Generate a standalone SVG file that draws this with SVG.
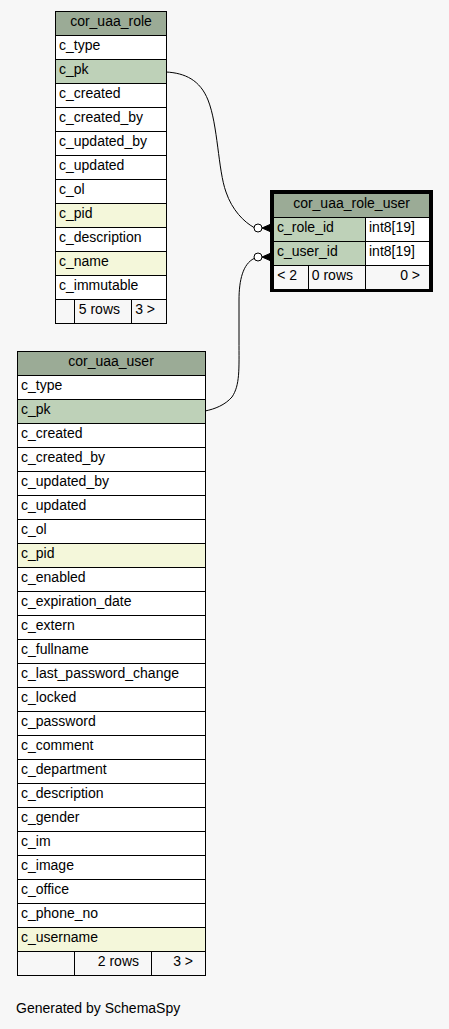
<svg xmlns="http://www.w3.org/2000/svg" width="449" height="1029" viewBox="0 0 449 1029">
<style>
text{font-family:"Liberation Sans",Arial,sans-serif;font-size:14px;fill:#000}
.c{text-anchor:middle}
.e{text-anchor:end}
.cell{fill:#ffffff;stroke:#000;stroke-width:1}
.hdr{fill:#9bab96;stroke:#000;stroke-width:1}
.pk{fill:#bed1b8;stroke:#000;stroke-width:1}
.idx{fill:#f4f7da;stroke:#000;stroke-width:1}
.ft{fill:#f7f7f7;stroke:#000;stroke-width:1}
.edge{fill:none;stroke:#000;stroke-width:1}
.dot{fill:#fff;stroke:#000;stroke-width:1}
.crow{fill:#000;stroke:#000;stroke-width:1}
</style>
<rect width="449" height="1029" fill="#f7f7f7"/>

<g id="cor_uaa_role">
<rect class="hdr" x="55.5" y="11.5" width="111" height="24"/>
<text class="c" x="111" y="26">cor_uaa_role</text>
<rect class="cell" x="55.5" y="35.5" width="111" height="24"/><text x="59" y="50">c_type</text>
<rect class="pk" x="55.5" y="59.5" width="111" height="24"/><text x="59" y="74">c_pk</text>
<rect class="cell" x="55.5" y="83.5" width="111" height="24"/><text x="59" y="98">c_created</text>
<rect class="cell" x="55.5" y="107.5" width="111" height="24"/><text x="59" y="122">c_created_by</text>
<rect class="cell" x="55.5" y="131.5" width="111" height="24"/><text x="59" y="146">c_updated_by</text>
<rect class="cell" x="55.5" y="155.5" width="111" height="24"/><text x="59" y="170">c_updated</text>
<rect class="cell" x="55.5" y="179.5" width="111" height="24"/><text x="59" y="194">c_ol</text>
<rect class="idx" x="55.5" y="203.5" width="111" height="24"/><text x="59" y="218">c_pid</text>
<rect class="cell" x="55.5" y="227.5" width="111" height="24"/><text x="59" y="242">c_description</text>
<rect class="idx" x="55.5" y="251.5" width="111" height="24"/><text x="59" y="266">c_name</text>
<rect class="cell" x="55.5" y="275.5" width="111" height="24"/><text x="59" y="290">c_immutable</text>
<rect class="ft" x="55.5" y="299.5" width="19" height="24"/>
<rect class="ft" x="74.5" y="299.5" width="57" height="24"/><text class="e" x="120" y="314">5 rows</text>
<rect class="ft" x="131.5" y="299.5" width="35" height="24"/><text class="e" x="155" y="314">3 &gt;</text>
</g>

<g id="cor_uaa_role_user">
<rect x="271.5" y="191.5" width="160" height="99" fill="none" stroke="#000" stroke-width="3"/>
<rect class="hdr" x="273.5" y="193.5" width="156" height="24"/>
<text class="c" x="351.5" y="208">cor_uaa_role_user</text>
<rect class="pk" x="273.5" y="217.5" width="92" height="24"/><text x="277" y="232">c_role_id</text>
<rect class="cell" x="365.5" y="217.5" width="64" height="24"/><text x="369" y="232">int8[19]</text>
<rect class="pk" x="273.5" y="241.5" width="92" height="24"/><text x="277" y="256">c_user_id</text>
<rect class="cell" x="365.5" y="241.5" width="64" height="24"/><text x="369" y="256">int8[19]</text>
<rect class="ft" x="273.5" y="265.5" width="35" height="24"/><text class="e" x="297" y="280">&lt; 2</text>
<rect class="ft" x="308.5" y="265.5" width="57" height="24"/><text class="e" x="353" y="280">0 rows</text>
<rect class="ft" x="365.5" y="265.5" width="64" height="24"/><text class="e" x="420" y="280">0 &gt;</text>
</g>

<g id="cor_uaa_user">
<rect class="hdr" x="17.5" y="351.5" width="188" height="24"/>
<text class="c" x="111" y="366">cor_uaa_user</text>
<rect class="cell" x="17.5" y="375.5" width="188" height="24"/><text x="21" y="390">c_type</text>
<rect class="pk" x="17.5" y="399.5" width="188" height="24"/><text x="21" y="414">c_pk</text>
<rect class="cell" x="17.5" y="423.5" width="188" height="24"/><text x="21" y="438">c_created</text>
<rect class="cell" x="17.5" y="447.5" width="188" height="24"/><text x="21" y="462">c_created_by</text>
<rect class="cell" x="17.5" y="471.5" width="188" height="24"/><text x="21" y="486">c_updated_by</text>
<rect class="cell" x="17.5" y="495.5" width="188" height="24"/><text x="21" y="510">c_updated</text>
<rect class="cell" x="17.5" y="519.5" width="188" height="24"/><text x="21" y="534">c_ol</text>
<rect class="idx" x="17.5" y="543.5" width="188" height="24"/><text x="21" y="558">c_pid</text>
<rect class="cell" x="17.5" y="567.5" width="188" height="24"/><text x="21" y="582">c_enabled</text>
<rect class="cell" x="17.5" y="591.5" width="188" height="24"/><text x="21" y="606">c_expiration_date</text>
<rect class="cell" x="17.5" y="615.5" width="188" height="24"/><text x="21" y="630">c_extern</text>
<rect class="cell" x="17.5" y="639.5" width="188" height="24"/><text x="21" y="654">c_fullname</text>
<rect class="cell" x="17.5" y="663.5" width="188" height="24"/><text x="21" y="678">c_last_password_change</text>
<rect class="cell" x="17.5" y="687.5" width="188" height="24"/><text x="21" y="702">c_locked</text>
<rect class="cell" x="17.5" y="711.5" width="188" height="24"/><text x="21" y="726">c_password</text>
<rect class="cell" x="17.5" y="735.5" width="188" height="24"/><text x="21" y="750">c_comment</text>
<rect class="cell" x="17.5" y="759.5" width="188" height="24"/><text x="21" y="774">c_department</text>
<rect class="cell" x="17.5" y="783.5" width="188" height="24"/><text x="21" y="798">c_description</text>
<rect class="cell" x="17.5" y="807.5" width="188" height="24"/><text x="21" y="822">c_gender</text>
<rect class="cell" x="17.5" y="831.5" width="188" height="24"/><text x="21" y="846">c_im</text>
<rect class="cell" x="17.5" y="855.5" width="188" height="24"/><text x="21" y="870">c_image</text>
<rect class="cell" x="17.5" y="879.5" width="188" height="24"/><text x="21" y="894">c_office</text>
<rect class="cell" x="17.5" y="903.5" width="188" height="24"/><text x="21" y="918">c_phone_no</text>
<rect class="idx" x="17.5" y="927.5" width="188" height="24"/><text x="21" y="942">c_username</text>
<rect class="ft" x="17.5" y="951.5" width="57" height="24"/>
<rect class="ft" x="74.5" y="951.5" width="77" height="24"/><text class="e" x="139" y="966">2 rows</text>
<rect class="ft" x="151.5" y="951.5" width="54" height="24"/><text class="e" x="193" y="966">3 &gt;</text>
</g>

<g id="connectors">
<path class="edge" d="M166,72 C185,73 200,80 208,100 C218,125 218,170 226,192 C232,210 244,222 254,227.5"/>
<circle class="dot" cx="258" cy="228" r="4"/>
<polygon class="crow" points="262,228 270,224.5 270,231.5"/>
<path class="edge" d="M205,411 C215,409 225,405 232,397 C240,385 239,370 239,340 L239,300 C239,280 243,264 254,258.5"/>
<circle class="dot" cx="258" cy="257" r="4"/>
<polygon class="crow" points="262,257 270,253.5 270,260.5"/>
</g>

<text x="16" y="1013">Generated by SchemaSpy</text>
</svg>
